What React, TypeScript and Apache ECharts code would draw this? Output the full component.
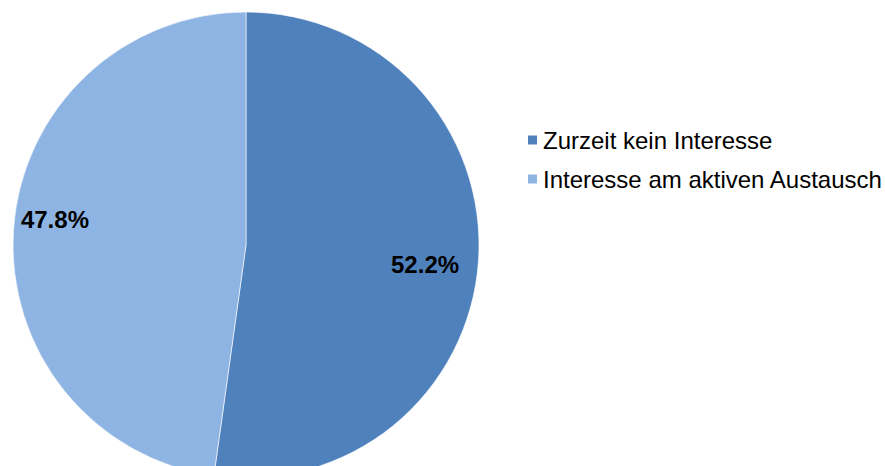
import React, { useEffect, useRef } from "react";
import * as echarts from "echarts";

const categories = ["Zurzeit kein Interesse", "Interesse am aktiven Austausch"];
const values = [52.2, 47.8];
const colors = ["#4F81BD", "#8EB4E3"];
const labelNudges: [number, number][] = [[-10, 6], [-2, -12]];

export default function App() {
  const ref = useRef<HTMLDivElement>(null);
  useEffect(() => {
    document.body.style.margin = "0";
    const chart = echarts.init(ref.current!, null, { renderer: "svg" });
    const data = categories.map((name, i) => ({ name, value: values[i] }));
    const labelData = categories.map((name, i) => ({
      name,
      value: values[i],
      label: { offset: labelNudges[i] },
    }));
    chart.setOption({
      animation: false,
      color: colors,
      legend: {
        orient: "vertical",
        left: 526,
        top: 128,
        padding: 0,
        itemWidth: 11,
        itemHeight: 11,
        itemGap: 15,
        icon: "rect",
        selectedMode: false,
        data: categories,
        textStyle: { fontFamily: "Liberation Sans", fontSize: 24, color: "#000" },
      },
      series: [
        {
          type: "pie",
          center: [246, 245],
          radius: [0, 233],
          startAngle: 90,
          clockwise: true,
          silent: true,
          label: { show: false },
          labelLine: { show: false },
          itemStyle: { borderColor: "#ffffff", borderWidth: 0.6 },
          data,
        },
        {
          type: "pie",
          center: [246, 245],
          radius: [140, 233],
          startAngle: 90,
          clockwise: true,
          silent: true,
          itemStyle: { color: "transparent" },
          label: {
            show: true,
            position: "inside",
            formatter: "{c}%",
            fontFamily: "Liberation Sans",
            fontWeight: "bold",
            fontSize: 24,
            color: "#000",
          },
          labelLine: { show: false },
          data: labelData,
        },
      ],
    });
    return () => chart.dispose();
  }, []);
  return <div ref={ref} style={{ width: 885, height: 466 }} />;
}
